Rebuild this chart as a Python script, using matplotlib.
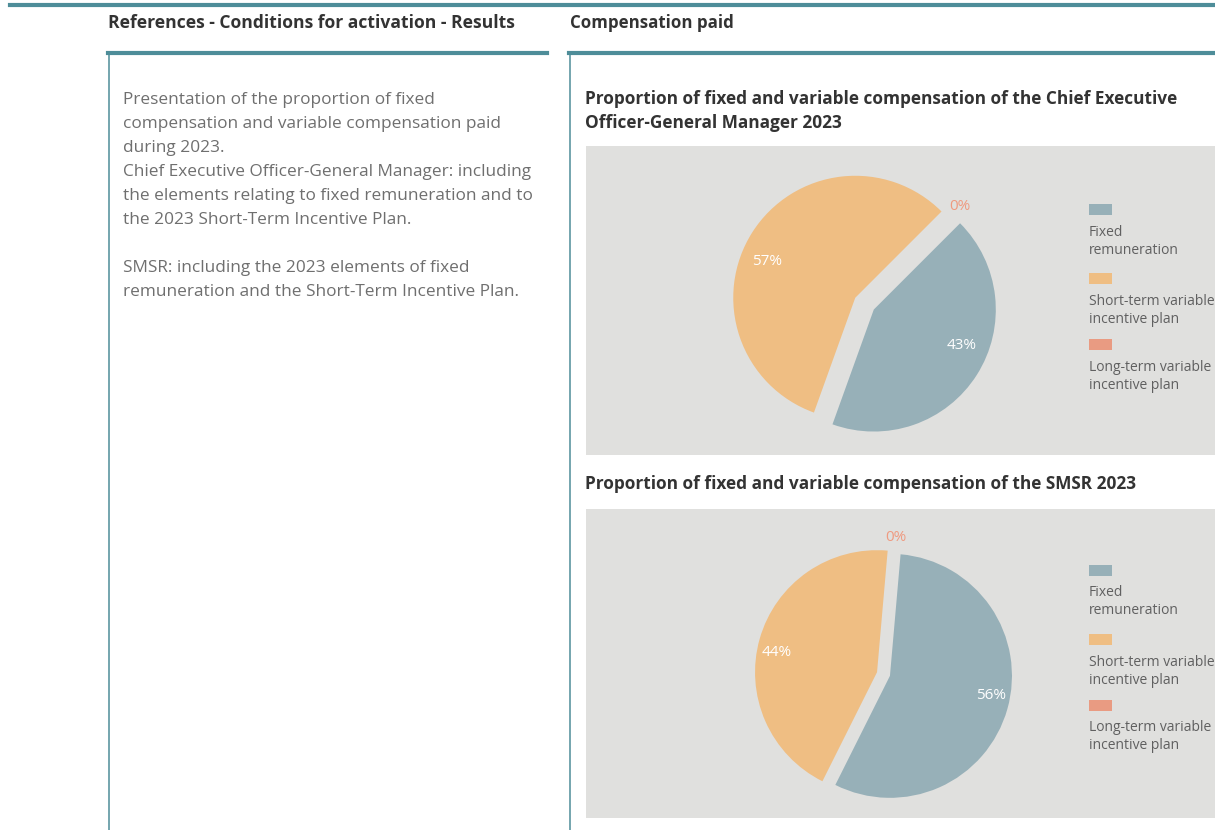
import matplotlib
matplotlib.use("Agg")

import numpy as np
import matplotlib.pyplot as plt
from matplotlib.patches import Rectangle
from matplotlib.lines import Line2D

plt.rcParams['font.family'] = ['Open Sans', 'DejaVu Sans']

# data
categories = ["Fixed\nremuneration",
              "Short-term variable\nincentive plan",
              "Long-term variable\nincentive plan"]
ceo_values = [43, 57, 0]
smsr_values = [56, 44, 0]
colors = ["#97b0b8", "#efbe83", "#e99b82"]

left_header = "References - Conditions for activation - Results"
right_header = "Compensation paid"
ceo_title = ["Proportion of fixed and variable compensation of the Chief Executive",
             "Officer-General Manager 2023"]
smsr_title = ["Proportion of fixed and variable compensation of the SMSR 2023"]
body_lines = [
    "Presentation of the proportion of fixed",
    "compensation and variable compensation paid",
    "during 2023.",
    "Chief Executive Officer-General Manager: including",
    "the elements relating to fixed remuneration and to",
    "the 2023 Short-Term Incentive Plan.",
    "",
    "SMSR: including the 2023 elements of fixed",
    "remuneration and the Short-Term Incentive Plan.",
]

W, H = 1215, 830
teal = "#4e8d99"
panel_grey = "#e0e0de"
dark = "#333333"


def fx(x):
    return x / W


def fy(y):
    return 1 - y / H


fig = plt.figure(figsize=(W / 100, H / 100), dpi=100)
fig.patch.set_facecolor("white")

# frame lines
fig.add_artist(Line2D([fx(10), fx(W)], [fy(5), fy(5)], color=teal, lw=3))
fig.add_artist(Line2D([fx(108), fx(547)], [fy(53.5), fy(53.5)], color=teal, lw=3))
fig.add_artist(Line2D([fx(569), fx(W)], [fy(53.5), fy(53.5)], color=teal, lw=3))
fig.add_artist(Line2D([fx(109), fx(109)], [fy(53), fy(H)], color=teal, lw=1.1))
fig.add_artist(Line2D([fx(570), fx(570)], [fy(53), fy(H)], color=teal, lw=1.1))

# headers
fig.text(fx(108), fy(22.5), left_header, fontsize=12.6, fontweight="bold",
         color=dark, va="center", ha="left")
fig.text(fx(570), fy(22.5), right_header, fontsize=12.2, fontweight="bold",
         color=dark, va="center", ha="left")

# body text on the left
for i, line in enumerate(body_lines):
    fig.text(fx(123), fy(99.5 + 24 * i), line, fontsize=12.4,
             color="#6f6f6f", va="center", ha="left")

# chart titles
for i, line in enumerate(ceo_title):
    fig.text(fx(585), fy(99.5 + 24 * i), line, fontsize=12.4, fontweight="bold",
             color=dark, va="center", ha="left")
for i, line in enumerate(smsr_title):
    fig.text(fx(585), fy(483.5 + 24 * i), line, fontsize=12.4, fontweight="bold",
             color=dark, va="center", ha="left")

# grey panels
for top in (146, 509):
    fig.add_artist(Rectangle((fx(586), fy(top + 309)), (W - 586) / W, 309 / H,
                             transform=fig.transFigure, facecolor=panel_grey,
                             edgecolor="none", zorder=0))


def draw_pie(values, cx, cy, start, explode, pctdist, turn):
    half = 160
    radius_px = 122
    ax = fig.add_axes([fx(cx - half), fy(cy + half), 2 * half / W, 2 * half / H])
    wedges, texts, autotexts = ax.pie(
        values, colors=colors, startangle=start, counterclock=False,
        explode=explode, autopct="%.0f%%", pctdistance=pctdist,
        textprops=dict(color="white", fontsize=11))
    lim = half / radius_px
    ax.set_xlim(-lim, lim)
    ax.set_ylim(-lim, lim)
    ax.set_aspect("equal")
    ax.axis("off")
    for v, w, t in zip(values, wedges, autotexts):
        if v == 0:
            a = np.deg2rad(w.theta1)
            t.set_position((1.12 * np.cos(a), 1.12 * np.sin(a)))
            t.set_color("#ef9a80")
        else:
            # turn the label a little around its wedge tip
            a = np.deg2rad((w.theta1 + w.theta2) / 2 + turn)
            c = w.center
            t.set_position((c[0] + pctdist * np.cos(a), c[1] + pctdist * np.sin(a)))


def draw_legend(y0):
    for i, (lab, c) in enumerate(zip(categories, colors)):
        py = y0 + [0, 69.5, 135][i]
        fig.add_artist(Rectangle((fx(1089), fy(py + 5.5)), 23 / W, 11 / H,
                                 transform=fig.transFigure, facecolor=c,
                                 edgecolor="none"))
        fig.text(fx(1089), fy(py + 15), lab, fontsize=10, color="#606060",
                 va="top", ha="left", linespacing=1.3)


draw_pie(ceo_values, 863.5, 303, 45, [0.1, 0.08, 0], 0.78, 10)
draw_pie(smsr_values, 883.5, 674, 85, [0.055, 0.055, 0], 0.84, 5)
draw_legend(209.5)
draw_legend(570)

fig.savefig("out.png", dpi=100)
